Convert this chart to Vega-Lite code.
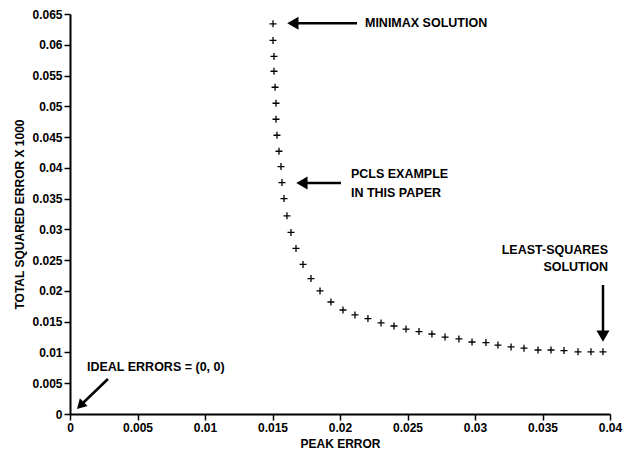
{
  "$schema": "https://vega.github.io/schema/vega-lite/v6.json",
  "width": 540,
  "height": 400,
  "autosize": "none",
  "padding": {"left": 70, "top": 14, "right": 22, "bottom": 43},
  "background": "white",
  "config": {
    "view": {"stroke": null},
    "font": "Liberation Sans",
    "axis": {
      "domainColor": "black", "domainWidth": 2, "tickColor": "black", "tickWidth": 1.5, "tickSize": 6,
      "labelFont": "Liberation Sans", "labelFontWeight": "bold", "labelFontSize": 12, "labelColor": "black",
      "titleFont": "Liberation Sans", "titleFontWeight": "bold", "titleFontSize": 12, "titleColor": "black",
      "grid": false, "labelPadding": 2, "labelOverlap": false, "labelBound": false
    }
  },
  "datasets": {
    "pts": [
      {"peak": 0.01504, "tse": 0.0634},
      {"peak": 0.01504, "tse": 0.0607},
      {"peak": 0.01511, "tse": 0.0581},
      {"peak": 0.01511, "tse": 0.0557},
      {"peak": 0.01519, "tse": 0.0531},
      {"peak": 0.01526, "tse": 0.0505},
      {"peak": 0.01526, "tse": 0.0479},
      {"peak": 0.01533, "tse": 0.0453},
      {"peak": 0.01548, "tse": 0.0427},
      {"peak": 0.01563, "tse": 0.0402},
      {"peak": 0.0157, "tse": 0.0376},
      {"peak": 0.01585, "tse": 0.035},
      {"peak": 0.01607, "tse": 0.0322},
      {"peak": 0.01637, "tse": 0.0295},
      {"peak": 0.01674, "tse": 0.0269},
      {"peak": 0.01726, "tse": 0.0243},
      {"peak": 0.01785, "tse": 0.022},
      {"peak": 0.01852, "tse": 0.02},
      {"peak": 0.01933, "tse": 0.0182},
      {"peak": 0.02022, "tse": 0.0169},
      {"peak": 0.02111, "tse": 0.0161},
      {"peak": 0.02207, "tse": 0.0155},
      {"peak": 0.02304, "tse": 0.0148},
      {"peak": 0.024, "tse": 0.0143},
      {"peak": 0.02489, "tse": 0.0138},
      {"peak": 0.02585, "tse": 0.0134},
      {"peak": 0.02681, "tse": 0.013},
      {"peak": 0.02778, "tse": 0.0125},
      {"peak": 0.02881, "tse": 0.0122},
      {"peak": 0.02978, "tse": 0.0117},
      {"peak": 0.03081, "tse": 0.0116},
      {"peak": 0.0317, "tse": 0.0112},
      {"peak": 0.03267, "tse": 0.0109},
      {"peak": 0.03363, "tse": 0.0107},
      {"peak": 0.03467, "tse": 0.0104},
      {"peak": 0.03563, "tse": 0.0104},
      {"peak": 0.03659, "tse": 0.0103},
      {"peak": 0.03763, "tse": 0.0101},
      {"peak": 0.03859, "tse": 0.0101},
      {"peak": 0.03948, "tse": 0.0101}
    ],
    "labels": [
      {"peak": 0.02185, "tse": 0.0635, "text": "MINIMAX SOLUTION"},
      {"peak": 0.02081, "tse": 0.039, "text": "PCLS EXAMPLE"},
      {"peak": 0.02081, "tse": 0.0359, "text": "IN THIS PAPER"},
      {"peak": 0.00126, "tse": 0.00764, "text": "IDEAL ERRORS = (0, 0)"}
    ],
    "rlabels": [
      {"peak": 0.03985, "tse": 0.02665, "text": "LEAST-SQUARES"},
      {"peak": 0.03985, "tse": 0.02389, "text": "SOLUTION"}
    ],
    "arrows": [
      {"peak": 0.01674, "tse": 0.0635, "peak2": 0.02126, "tse2": 0.0635},
      {"peak": 0.01704, "tse": 0.03754, "peak2": 0.02007, "tse2": 0.03754},
      {"peak": 0.03948, "tse": 0.02096, "peak2": 0.03948, "tse2": 0.0128},
      {"peak": 0.00281, "tse": 0.00569, "peak2": 0.00096, "tse2": 0.00179}
    ],
    "headsLeft": [
      {"peak": 0.01651, "tse": 0.0635},
      {"peak": 0.01718, "tse": 0.03754}
    ],
    "headsDown": [
      {"peak": 0.03948, "tse": 0.01265}
    ],
    "headsDiag": [
      {"peak": 0.00085, "tse": 0.00155}
    ]
  },
  "encoding": {
    "x": {"field": "peak", "type": "quantitative", "scale": {"domain": [0, 0.04], "nice": false, "zero": false},
          "axis": {"title": "PEAK ERROR", "values": [0, 0.005, 0.01, 0.015, 0.02, 0.025, 0.03, 0.035, 0.04], "format": "~g", "titlePadding": 5, "labelFlush": false, "labelOverlap": false}},
    "y": {"field": "tse", "type": "quantitative", "scale": {"domain": [0, 0.065], "nice": false},
          "axis": {"title": "TOTAL SQUARED ERROR X 1000", "values": [0, 0.005, 0.01, 0.015, 0.02, 0.025, 0.03, 0.035, 0.04, 0.045, 0.05, 0.055, 0.06, 0.065], "format": "~g", "titlePadding": 5, "labelFlush": false, "labelOverlap": false}}
  },
  "layer": [
    {
      "data": {"name": "pts"},
      "mark": {"type": "point", "shape": "M-1,0L1,0M0,-1L0,1", "filled": false, "stroke": "black", "strokeWidth": 1.3, "size": 49, "opacity": 1}
    },
    {
      "data": {"name": "labels"},
      "mark": {"type": "text", "align": "left", "baseline": "middle", "font": "Liberation Sans", "fontWeight": "bold", "fontSize": 12.5, "color": "black"},
      "encoding": {"text": {"field": "text"}}
    },
    {
      "data": {"name": "rlabels"},
      "mark": {"type": "text", "align": "right", "baseline": "middle", "font": "Liberation Sans", "fontWeight": "bold", "fontSize": 12.5, "color": "black"},
      "encoding": {"text": {"field": "text"}}
    },
    {
      "data": {"name": "arrows"},
      "mark": {"type": "rule", "color": "black", "strokeWidth": 2.5},
      "encoding": {
        "x2": {"field": "peak2"},
        "y2": {"field": "tse2"}
      }
    },
    {
      "data": {"name": "headsLeft"},
      "mark": {"type": "point", "shape": "triangle-left", "filled": true, "color": "black", "size": 170, "opacity": 1}
    },
    {
      "data": {"name": "headsDown"},
      "mark": {"type": "point", "shape": "triangle-down", "filled": true, "color": "black", "size": 170, "opacity": 1}
    },
    {
      "data": {"name": "headsDiag"},
      "mark": {"type": "point", "shape": "triangle", "angle": 225, "filled": true, "color": "black", "size": 120, "opacity": 1}
    }
  ]
}
